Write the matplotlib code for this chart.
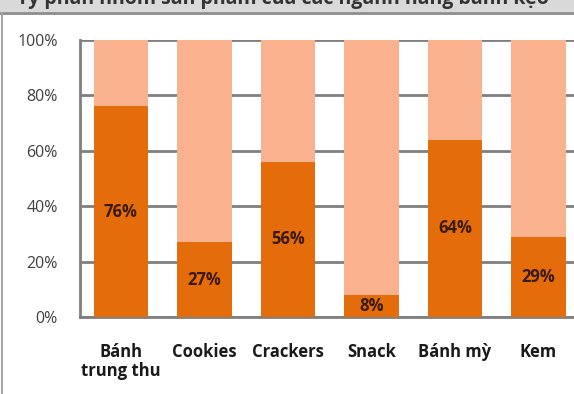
import matplotlib.pyplot as plt
from matplotlib.patches import Rectangle
from matplotlib.lines import Line2D

categories = ['Bánh\ntrung thu', 'Cookies', 'Crackers', 'Snack', 'Bánh mỳ', 'Kem']
share = [76, 27, 56, 8, 64, 29]
rest = [100 - v for v in share]
yticks = [0, 20, 40, 60, 80, 100]

dark = '#E46C0A'
light = '#F9B28D'
grid_c = '#7F7F7F'

plt.rcParams['font.family'] = ['Open Sans', 'DejaVu Sans']

fig = plt.figure(figsize=(5.74, 3.94), dpi=100)

# header strip, title mostly above the visible area
fig.patches.append(Rectangle((0, 0.970), 1, 0.03, transform=fig.transFigure,
                             facecolor='#D9D9D9', edgecolor='none', zorder=0))
fig.lines.append(Line2D([0, 1], [0.968, 0.968], transform=fig.transFigure,
                        color='#8C8C8C', lw=2))
fig.lines.append(Line2D([0.004, 0.004], [0, 0.968], transform=fig.transFigure,
                        color='#A6A6A6', lw=1.5))
fig.text(0.03, 1 - 4 / 394, 'Tỷ phần nhóm sản phẩm của các ngành hàng bánh kẹo',
         fontsize=14, fontweight='bold', color='#333333', va='baseline')

ax = fig.add_axes([80 / 574, 77 / 394, 1 - 80 / 574, 277 / 394])
x = range(len(categories))
ax.bar(x, share, width=0.65, color=dark, zorder=3)
ax.bar(x, rest, bottom=share, width=0.65, color=light, zorder=3)

for i, v in enumerate(share):
    ax.text(i, v / 2, f'{v}%', ha='center', va='center', fontsize=12,
            fontweight='bold', color='#3A1A05', zorder=4)

ax.set_xlim(-0.49, 5.425)
ax.set_ylim(0, 100)
ax.set_yticks(yticks)
ax.set_yticklabels([f'{t}%' for t in yticks], fontsize=11.5, color='#404040')
ax.set_xticks(list(x))
ax.set_xticklabels(categories, fontsize=12, fontweight='bold', color='#1a1a1a',
                   va='top', linespacing=1.05)
ax.tick_params(axis='x', length=0, pad=19)
ax.tick_params(axis='y', length=0, pad=16)
ax.grid(axis='y', color=grid_c, lw=2, zorder=1)
ax.set_axisbelow(True)
for s in ['top', 'right']:
    ax.spines[s].set_visible(False)
for s in ['left', 'bottom']:
    ax.spines[s].set_color(grid_c)
    ax.spines[s].set_linewidth(2)

fig.savefig('out.png', dpi=100)
